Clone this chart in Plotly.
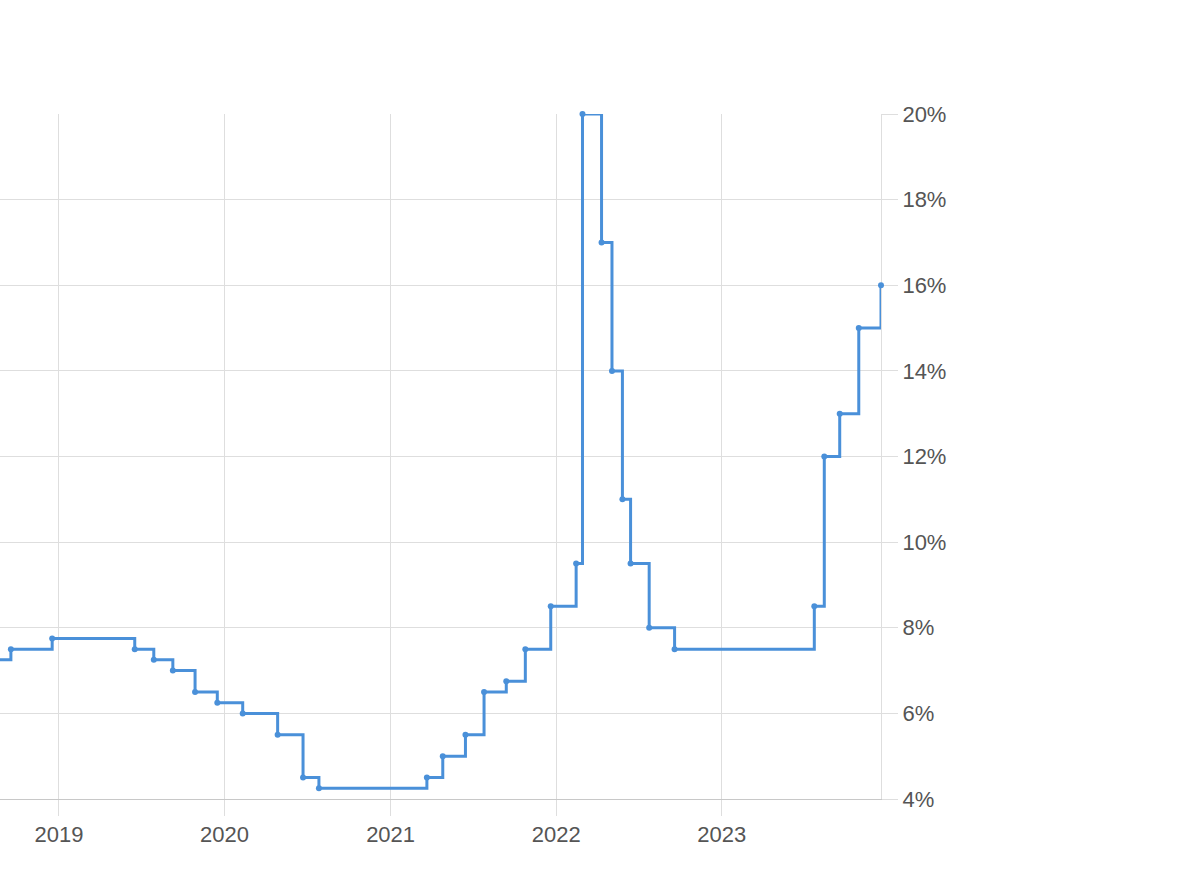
import plotly.graph_objects as go

dates = ["2018-03-26", "2018-09-17", "2018-12-17", "2019-06-17", "2019-07-29", "2019-09-09",
         "2019-10-28", "2019-12-16", "2020-02-10", "2020-04-27", "2020-06-22", "2020-07-27",
         "2021-03-22", "2021-04-26", "2021-06-15", "2021-07-26", "2021-09-13", "2021-10-25",
         "2021-12-20", "2022-02-14", "2022-02-28", "2022-04-11", "2022-05-04", "2022-05-27",
         "2022-06-14", "2022-07-25", "2022-09-19", "2023-07-24", "2023-08-15", "2023-09-18",
         "2023-10-30", "2023-12-18"]
rates = [7.25, 7.50, 7.75, 7.50, 7.25, 7.00,
         6.50, 6.25, 6.00, 5.50, 4.50, 4.25,
         4.50, 5.00, 5.50, 6.50, 6.75, 7.50,
         8.50, 9.50, 20.00, 17.00, 14.00, 11.00,
         9.50, 8.00, 7.50, 8.50, 12.00, 13.00,
         15.00, 16.00]

x_range = ["2018-08-24", "2023-12-18"]
y_ticks = [4, 6, 8, 10, 12, 14, 16, 18, 20]
y_labels = ["4%", "6%", "8%", "10%", "12%", "14%", "16%", "18%", "20%"]

LINE = "#4a90d9"
GRID = "#dedede"
TXT = "#555555"

fig = go.Figure(go.Scatter(
    x=dates, y=rates, mode="lines+markers",
    line=dict(shape="hv", color=LINE, width=3),
    marker=dict(size=6, color=LINE),
    cliponaxis=False,
    hoverinfo="x+y",
))

fig.update_layout(
    width=1200, height=886,
    margin=dict(l=0, r=319, t=114, b=87),
    paper_bgcolor="white", plot_bgcolor="white",
    showlegend=False,
    font=dict(family="Liberation Sans, Arial, sans-serif", size=22, color=TXT),
)
fig.update_xaxes(
    type="date", range=x_range,
    dtick="M12", tick0="2019-01-01", tickformat="%Y",
    showgrid=True, gridcolor=GRID, gridwidth=1,
    ticks="outside", ticklen=16, tickcolor=GRID, tickwidth=1,
    showline=True, linecolor="#c8c8c8", linewidth=1,
    tickfont=dict(size=22, color=TXT),
    zeroline=False, layer="below traces",
)
fig.update_yaxes(
    side="right", range=[4, 20],
    tickvals=y_ticks, ticktext=y_labels,
    showgrid=True, gridcolor=GRID, gridwidth=1,
    ticks="outside", ticklen=16, tickcolor=GRID, tickwidth=1,
    showline=True, linecolor=GRID, linewidth=1,
    tickfont=dict(size=22, color=TXT),
    zeroline=False, layer="below traces",
)

fig.write_html("out.html", config={"displayModeBar": False},
               post_script="document.body.style.margin='0';")
